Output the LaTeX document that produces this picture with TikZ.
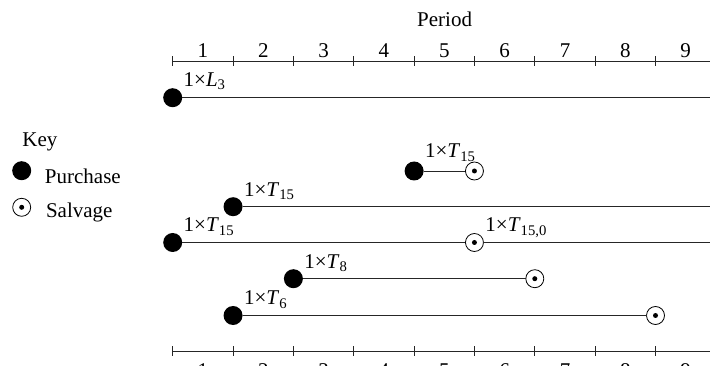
\documentclass[tikz,border=0pt]{standalone}
\usepackage{fontspec}
\setmainfont{Liberation Serif}
\begin{document}
\begin{tikzpicture}[x=1pt,y=-1pt,
  every node/.style={font=\fontsize{21}{25}\selectfont, inner sep=0pt, outer sep=0pt},
  purch/.style={circle, fill=black, minimum size=19pt, inner sep=0pt},
  salv/.style={circle, draw=black, line width=0.8pt, fill=white, minimum size=18pt, inner sep=0pt,
    path picture={\fill[black] (path picture bounding box.center) circle (2.5pt);}},
  rowline/.style={line width=0.9pt, black!85},
  axisline/.style={line width=0.9pt, black!85},
  lbl/.style={anchor=base west},
  num/.style={anchor=base}
]
\useasboundingbox (0,0) rectangle (710,366);
% top axis
\node[num] (period) at (444.6,27) {Period};
\coordinate (tA) at (172.7,61.3);
\coordinate (tB) at (710,61.3);
\draw[axisline] (tA) -- (tB);
\foreach \k in {0,...,8} {
  \draw[axisline] (172.7+60.35*\k,56.3) -- (172.7+60.35*\k,66.3);
}
\foreach \k [evaluate=\k as \n using int(\k+1)] in {0,...,8} {
  \node[num] (tn\k) at (202.9+60.35*\k,57.3) {\n};
}
% bottom axis
\coordinate (bA) at (172.7,351.3);
\coordinate (bB) at (710,351.3);
\draw[axisline] (bA) -- (bB);
\foreach \k in {0,...,8} {
  \draw[axisline] (172.7+60.35*\k,346.3) -- (172.7+60.35*\k,356.3);
}
\foreach \k [evaluate=\k as \n using int(\k+1)] in {0,...,8} {
  \node[num] (bn\k) at (202.9+60.35*\k,377.8) {\n};
}
% key
\node[anchor=base west] (key) at (22.5,146.7) {Key};
\node[purch] (kp) at (21.7,170.7) {};
\node[anchor=base west] (kpt) at (45,183.3) {Purchase};
\node[salv] (ks) at (21.7,207.3) {};
\node[anchor=base west] (kst) at (46,217.2) {Salvage};
% row 1: L3
\node[purch] (r1a) at (172.7,97.7) {};
\coordinate (r1e) at (710,97.7);
\draw[rowline] (r1a) -- (r1e);
\node[lbl] at ([shift={(11,-11.5)}]r1a.center) {1×\textit{L}\textsubscript{3}};
% row 2: short T15
\node[purch] (r2a) at (414.1,171) {};
\node[salv] (r2s) at (474.45,171) {};
\draw[rowline] (r2a) -- (r2s);
\node[lbl] at ([shift={(11,-13)}]r2a.center) {1×\textit{T}\textsubscript{15}};
% row 3: T15
\node[purch] (r3a) at (233.05,206.7) {};
\coordinate (r3e) at (710,206.7);
\draw[rowline] (r3a) -- (r3e);
\node[lbl] at ([shift={(11,-10.5)}]r3a.center) {1×\textit{T}\textsubscript{15}};
% row 4: T15 with salvage T15,0
\node[purch] (r4a) at (172.7,242.5) {};
\node[salv] (r4s) at (474.45,242.5) {};
\coordinate (r4e) at (710,242.5);
\draw[rowline] (r4a) -- (r4s);
\draw[rowline] (r4s) -- (r4e);
\node[lbl] at ([shift={(11,-10.5)}]r4a.center) {1×\textit{T}\textsubscript{15}};
\node[lbl] at ([shift={(11,-10.5)}]r4s.center) {1×\textit{T}\textsubscript{15,0}};
% row 5: T8
\node[purch] (r5a) at (293.4,278.7) {};
\node[salv] (r5s) at (534.8,278.7) {};
\draw[rowline] (r5a) -- (r5s);
\node[lbl] at ([shift={(11,-10.5)}]r5a.center) {1×\textit{T}\textsubscript{8}};
% row 6: T6
\node[purch] (r6a) at (233.05,315.5) {};
\node[salv] (r6s) at (655.5,315.5) {};
\draw[rowline] (r6a) -- (r6s);
\node[lbl] at ([shift={(11,-10.5)}]r6a.center) {1×\textit{T}\textsubscript{6}};
\end{tikzpicture}
\end{document}
